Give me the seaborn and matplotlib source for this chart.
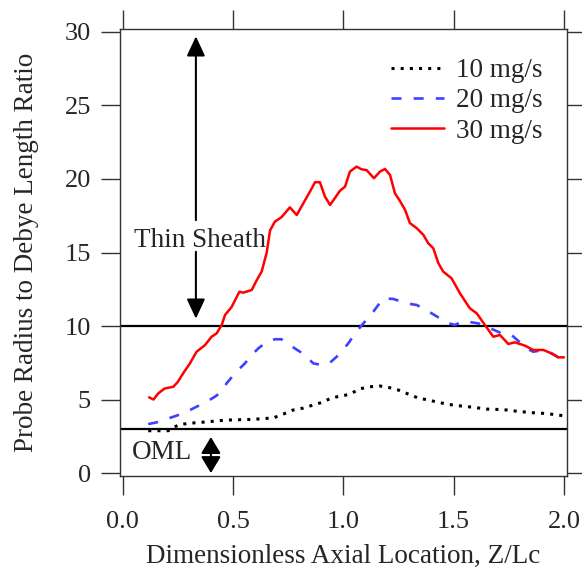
import matplotlib
matplotlib.use("Agg")
import matplotlib.pyplot as plt
import seaborn as sns
import pandas as pd

# ---- data ----
x_10 = [0.116, 0.207, 0.252, 0.297, 0.388, 0.464, 0.585, 0.637, 0.683, 0.728, 0.773, 0.819,
        0.864, 0.909, 0.947, 0.993, 1.03, 1.076, 1.121, 1.166, 1.212, 1.249, 1.295, 1.34,
        1.385, 1.431, 1.476, 1.521, 1.567, 1.605, 1.65, 1.695, 1.741, 1.778, 1.824, 1.861,
        1.907, 1.952, 1.997]
y_10 = [2.88, 2.88, 3.27, 3.38, 3.49, 3.60, 3.65, 3.70, 3.75, 4.01, 4.29, 4.42,
        4.63, 4.83, 5.12, 5.24, 5.37, 5.73, 5.87, 5.92, 5.80, 5.65, 5.37, 5.10,
        4.97, 4.81, 4.67, 4.58, 4.51, 4.44, 4.35, 4.33, 4.29, 4.22, 4.15, 4.10,
        4.06, 3.99, 3.90]

x_20 = [0.116, 0.161, 0.222, 0.275, 0.335, 0.38, 0.418, 0.449, 0.471, 0.509, 0.554, 0.585,
        0.615, 0.653, 0.69, 0.72, 0.758, 0.826, 0.864, 0.902, 0.932, 0.97, 1.023, 1.053,
        1.098, 1.136, 1.181, 1.227, 1.287, 1.333, 1.401, 1.438, 1.475, 1.506, 1.544, 1.612,
        1.65, 1.718, 1.763, 1.831, 1.861, 1.907, 1.945, 1.982]
y_20 = [3.33, 3.47, 3.79, 4.06, 4.51, 4.85, 5.19, 5.53, 6.10, 6.78, 7.46, 8.03,
        8.48, 8.93, 9.10, 9.10, 8.70, 8.03, 7.46, 7.35, 7.41, 7.91, 8.82, 9.50,
        10.30, 10.97, 11.88, 11.84, 11.54, 11.43, 10.86, 10.52, 10.20, 10.07, 10.34, 10.18,
        9.95, 9.50, 9.39, 8.48, 8.25, 8.37, 8.14, 7.80]

x_30 = [0.12, 0.14, 0.16, 0.19, 0.23, 0.25, 0.275, 0.305, 0.335, 0.373, 0.403, 0.426,
        0.449, 0.464, 0.494, 0.529, 0.547, 0.585, 0.607, 0.63, 0.653, 0.668, 0.69, 0.72,
        0.758, 0.789, 0.819, 0.849, 0.872, 0.894, 0.917, 0.94, 0.962, 0.985, 1.008, 1.03,
        1.06, 1.083, 1.106, 1.139, 1.166, 1.189, 1.212, 1.234, 1.257, 1.28, 1.302, 1.333,
        1.363, 1.385, 1.408, 1.431, 1.453, 1.491, 1.529, 1.574, 1.605, 1.642, 1.68, 1.71,
        1.748, 1.778, 1.824, 1.861, 1.907, 1.937, 1.975, 2.0]
y_30 = [5.15, 5.00, 5.40, 5.75, 5.87, 6.20, 6.80, 7.46, 8.25, 8.70, 9.27, 9.50,
        10.07, 10.75, 11.30, 12.33, 12.27, 12.45, 13.10, 13.70, 15.00, 16.50, 17.10, 17.40,
        18.07, 17.55, 18.35, 19.14, 19.78, 19.78, 18.80, 18.23, 18.70, 19.20, 19.48, 20.50,
        20.84, 20.66, 20.60, 20.05, 20.50, 20.68, 20.27, 19.03, 18.50, 17.90, 17.00, 16.65,
        16.20, 15.63, 15.29, 14.27, 13.70, 13.24, 12.22, 11.20, 10.86, 10.07, 9.27, 9.39,
        8.78, 8.89, 8.66, 8.37, 8.37, 8.18, 7.87, 7.87]

series_labels = ["10 mg/s", "20 mg/s", "30 mg/s"]
ref_levels = [10, 3]
x_ticks = [0.0, 0.5, 1.0, 1.5, 2.0]
x_tick_labels = ["0.0", "0.5", "1.0", "1.5", "2.0"]
y_ticks = [0, 5, 10, 15, 20, 25, 30]

# ---- style ----
sns.set_style("ticks")
plt.rcParams["font.family"] = ["Liberation Serif", "DejaVu Serif"]
plt.rcParams["mathtext.fontset"] = "stix"
plt.rcParams["lines.solid_joinstyle"] = "round"
plt.rcParams["lines.solid_capstyle"] = "round"

fig = plt.figure(figsize=(5.82, 5.73), dpi=100)
ax = fig.add_axes([120 / 582, 1 - 476 / 573, 447 / 582, 447 / 573])

fs = 19.5

df10 = pd.DataFrame({"x": x_10, "y": y_10})
df20 = pd.DataFrame({"x": x_20, "y": y_20})
df30 = pd.DataFrame({"x": x_30, "y": y_30})

sns.lineplot(data=df10, x="x", y="y", ax=ax, color="black", lw=2.2,
             linestyle=(0, (1.0, 2.0)), label=series_labels[0], sort=False)
sns.lineplot(data=df20, x="x", y="y", ax=ax, color="#4040ff", lw=1.9,
             linestyle=(0, (3.8, 4.6)), label=series_labels[1], sort=False)
sns.lineplot(data=df30, x="x", y="y", ax=ax, color="#ff0000", lw=1.8,
             linestyle="-", label=series_labels[2], sort=False)

for lv in ref_levels:
    ax.axhline(lv, color="black", lw=1.6, zorder=1)

ax.set_xlim(-0.012, 2.014)
ax.set_ylim(-0.2, 30.2)
ax.set_xticks(x_ticks)
ax.set_xticklabels(x_tick_labels)
ax.set_yticks(y_ticks)

ax.tick_params(axis="both", which="major", direction="out", length=14, width=1.0,
               labelsize=fs - 0.5, top=True, right=True, color="#333333")
ax.tick_params(axis="x", pad=11)
ax.tick_params(axis="y", pad=7)
for s in ax.spines.values():
    s.set_linewidth(1.0)
    s.set_color("#333333")

ax.set_xlabel("Dimensionless Axial Location, Z/Lc", fontsize=fs, labelpad=8)
ax.set_ylabel("Probe Radius to Debye Length Ratio", fontsize=fs, labelpad=18)

leg = ax.legend(loc="upper right", bbox_to_anchor=(0.946, 0.935), frameon=False,
                fontsize=fs, handlelength=1.95, handletextpad=0.45, labelspacing=0.2,
                borderaxespad=0, borderpad=0)

# annotations
aprops = dict(arrowstyle="-|>,head_length=0.6,head_width=0.28", color="black", lw=1.5,
              shrinkA=0, shrinkB=0, mutation_scale=20)
ax.annotate("", xy=(0.332, 29.7), xytext=(0.332, 17.2), arrowprops=aprops)
ax.annotate("", xy=(0.332, 10.5), xytext=(0.332, 15.05), arrowprops=aprops)
ax.text(0.351, 15.85, "Thin Sheath", fontsize=fs, ha="center", va="center")

aprops2 = dict(arrowstyle="<|-|>,head_length=0.5,head_width=0.3", color="black", lw=1.5,
               shrinkA=0, shrinkB=0, mutation_scale=20)
ax.annotate("", xy=(0.40, 2.45), xytext=(0.40, 0.0), arrowprops=aprops2)
ax.text(0.18, 1.4, "OML", fontsize=fs, ha="center", va="center")

fig.savefig("out.png", dpi=100)
